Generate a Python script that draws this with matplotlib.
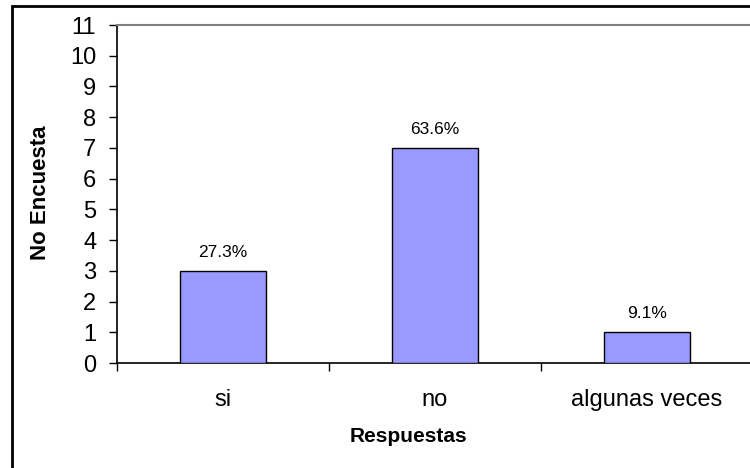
import matplotlib
matplotlib.use("Agg")
import matplotlib.pyplot as plt
from matplotlib.patches import Rectangle

categories = ["si", "no", "algunas veces"]
values = [3, 7, 1]
pct_labels = ["27.3%", "63.6%", "9.1%"]
yticks = list(range(0, 12))

plt.rcParams['font.family'] = ['Liberation Sans', 'DejaVu Sans']

W, H = 750, 468
fig = plt.figure(figsize=(W/100, H/100), dpi=100)

# axes: left 117, right 753, top 25, bottom 363 (pixels)
ax = fig.add_axes([117/W, 1-363/H, (753-117)/W, (363-25)/H])
x = list(range(len(categories)))
ax.bar(x, values, width=0.41, color="#9999FF", edgecolor="black", linewidth=1.0, zorder=3)
ax.set_xlim(-0.5, 2.5)
ax.set_ylim(0, 11)
ax.set_yticks(yticks)
ax.set_yticklabels([str(t) for t in yticks], fontsize=17)
ax.set_xticks(x)
ax.set_xticklabels(categories, fontsize=17)
ax.set_xticks([-0.5, 0.5, 1.5, 2.5], minor=True)
ax.tick_params(axis='x', which='major', length=0, pad=19)
ax.tick_params(axis='x', which='minor', length=6, width=1, direction='out')
ax.tick_params(axis='y', length=6, width=1, direction='out', pad=9)

ax.spines['right'].set_visible(False)
ax.spines['top'].set_color('#808080')
ax.spines['top'].set_linewidth(1.5)
ax.spines['left'].set_linewidth(1.2)
ax.spines['bottom'].set_linewidth(1.2)

for xi, v, lab in zip(x, values, pct_labels):
    ax.annotate(lab, (xi, v), xytext=(0, 8), textcoords='offset points',
                ha='center', va='bottom', fontsize=12.5)

fig.text(40/W, 1-193/H, "No Encuesta", rotation=90, ha='center', va='center',
         fontsize=16, fontweight='bold')
fig.text(408/W, 1-437/H, "Respuestas", ha='center', va='center',
         fontsize=15, fontweight='bold')

# figure border
fig.patches.append(Rectangle((12/W, -0.1), 1.2, 1-6/H+0.1, transform=fig.transFigure,
                             fill=False, edgecolor='black', linewidth=2))

fig.savefig("out.png", dpi=100)
